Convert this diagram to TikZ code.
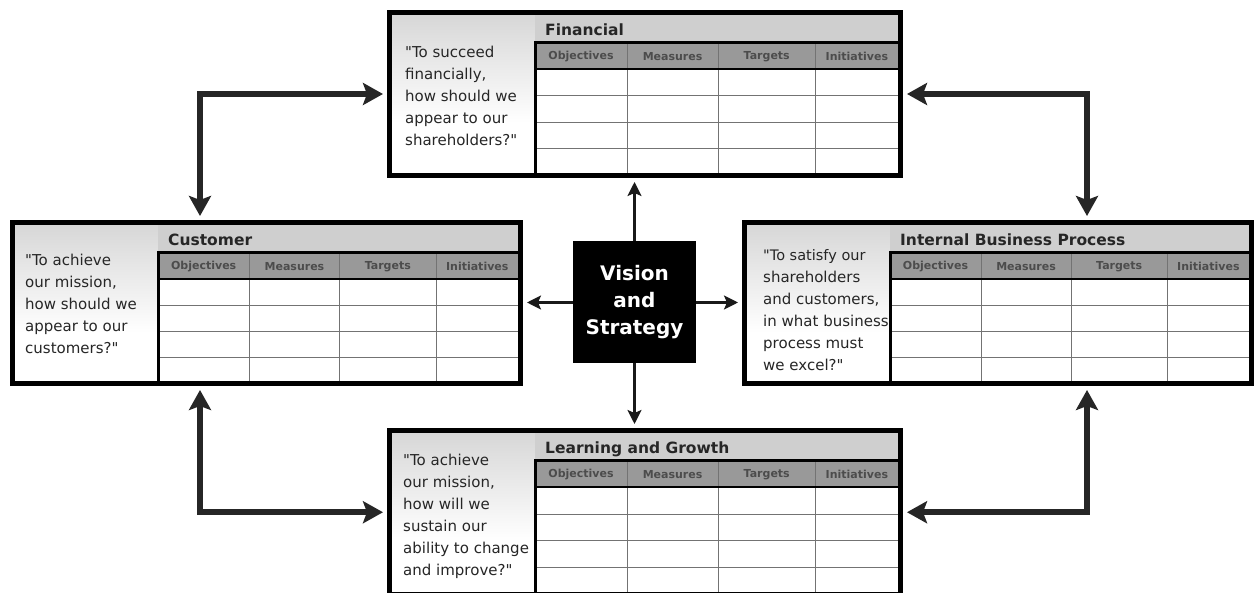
\documentclass[tikz,border=0pt]{standalone}
\usepackage{fontspec}
\setmainfont{DejaVu Sans}[Ligatures=TeXOff]
\usetikzlibrary{arrows.meta}
\tikzset{
  boxframe/.style={draw=black, line width=5pt, inner sep=0pt, outer sep=2.5pt},
  titleband/.style={fill=black!19},
  headrow/.style={fill=black!40},
  rowline/.style={draw=black!55, line width=1pt},
  colline/.style={draw=black!55, line width=1pt},
  tabframe/.style={draw=black, line width=3pt},
  titletext/.style={font=\bfseries\fontsize{15.5}{18}\selectfont, text=black!85, inner sep=0pt, anchor=base west},
  headtext/.style={font=\bfseries\fontsize{11}{13}\selectfont, text=black!70, inner sep=0pt},
  question/.style={font=\fontsize{15}{22}\selectfont, text=black!85, inner sep=0pt, anchor=north west, align=left},
  vision/.style={fill=black, text=white, font=\bfseries\fontsize{20}{27}\selectfont, align=center, minimum width=123pt, minimum height=122pt, inner sep=0pt, outer sep=0pt},
  thinarrow/.style={draw=black!90, line width=2.5pt, -{Stealth[length=14pt,width=14pt,inset=3pt]}, shorten >=4pt},
  bigarrow/.style={draw=black!85, line width=6.5pt, line join=miter, {Stealth[length=20pt,width=22pt,inset=4pt]}-{Stealth[length=20pt,width=22pt,inset=4pt]}, shorten >=4pt, shorten <=4pt},
}
% #1 name, #2 x0, #3 y0, #4 x1, #5 y1, #6 table x, #7 title, #8 question, #9 question position
\newcommand\bscpanel[9]{%
  \shade[top color=black!16, bottom color=white] (#2,#3) rectangle (#6,{#3+110});
  \fill[white] (#2,{#3+110}) rectangle (#6,#5);
  \fill[titleband] (#6,#3) rectangle (#4,{#3+30});
  \fill[headrow] (#6,{#3+30}) rectangle (#4,{#3+57});
  \fill[white] (#6,{#3+57}) rectangle (#4,#5);
  \foreach \k in {1,2,3}{
    \draw[rowline] (#6,{#3+57+\k*(#5-#3-57)/4}) -- (#4,{#3+57+\k*(#5-#3-57)/4});
  }
  \foreach \f in {0.252,0.501,0.767}{
    \draw[colline] ({#6+\f*(#4-#6)},{#3+30}) -- ({#6+\f*(#4-#6)},#5);
  }
  \draw[tabframe] (#6,#5) -- (#6,{#3+30}) -- (#4,{#3+30});
  \draw[draw=black, line width=2pt] (#6,{#3+57}) -- (#4,{#3+57});
  \node[titletext] (#1-t) at ({#6+10},{#3+23.5}) {#7};
  \node[headtext] (#1-h1) at ({#6+0.126*(#4-#6)},{#3+44}) {Objectives};
  \node[headtext] (#1-h2) at ({#6+0.3765*(#4-#6)},{#3+44}) {Measures};
  \node[headtext] (#1-h3) at ({#6+0.634*(#4-#6)},{#3+44}) {Targets};
  \node[headtext] (#1-h4) at ({#6+0.8835*(#4-#6)-1},{#3+44}) {Initiatives};
  \node[question] (#1-q) at (#9) {#8};
  \node[boxframe, minimum width={#4-#2}, minimum height={#5-#3}] (#1) at ({(#2+#4)/2},{(#3+#5)/2}) {};
}
\begin{document}
\begin{tikzpicture}[x=1pt,y=-1pt]
  \useasboundingbox (0,0) rectangle (1254,593);
  \fill[white] (0,0) rectangle (1254,593);

  \bscpanel{fin}{389.5}{12.5}{900.5}{175.5}{535}{Financial}
    {"To succeed\\financially,\\how should we\\appear to our\\shareholders?"}{405,45.5}
  \bscpanel{cus}{12.5}{222.5}{520.5}{383.5}{158}{Customer}
    {"To achieve\\our mission,\\how should we\\appear to our\\customers?"}{25,253.5}
  \bscpanel{ibp}{744.5}{222.5}{1251.5}{383.5}{890}{Internal Business Process}
    {\fontsize{14.5}{21.5}\selectfont"To satisfy our\\shareholders\\and customers,\\in what business\\process must\\we excel?"}{763,249}
  \bscpanel{lrn}{389.5}{430.5}{900.5}{594}{535}{Learning and Growth}
    {"To achieve\\our mission,\\how will we\\sustain our\\ability to change\\and improve?"}{403,453.5}

  \node[vision] (vis) at (634.5,302.5) {Vision\\and\\Strategy};

  \draw[thinarrow] (vis.north) -- (vis.north |- fin.south);
  \draw[thinarrow] (vis.south) -- (vis.south |- lrn.north);
  \draw[thinarrow] (vis.west) -- (vis.west -| cus.east);
  \draw[thinarrow] (vis.east) -- (vis.east -| ibp.west);

  \coordinate (cl) at (200,0);
  \coordinate (cr) at (1087,0);
  \draw[bigarrow] (fin.west) -| (cl |- cus.north);
  \draw[bigarrow] (fin.east) -| (cr |- ibp.north);
  \draw[bigarrow] (cl |- cus.south) |- (lrn.west);
  \draw[bigarrow] (cr |- ibp.south) |- (lrn.east);
\end{tikzpicture}
\end{document}
